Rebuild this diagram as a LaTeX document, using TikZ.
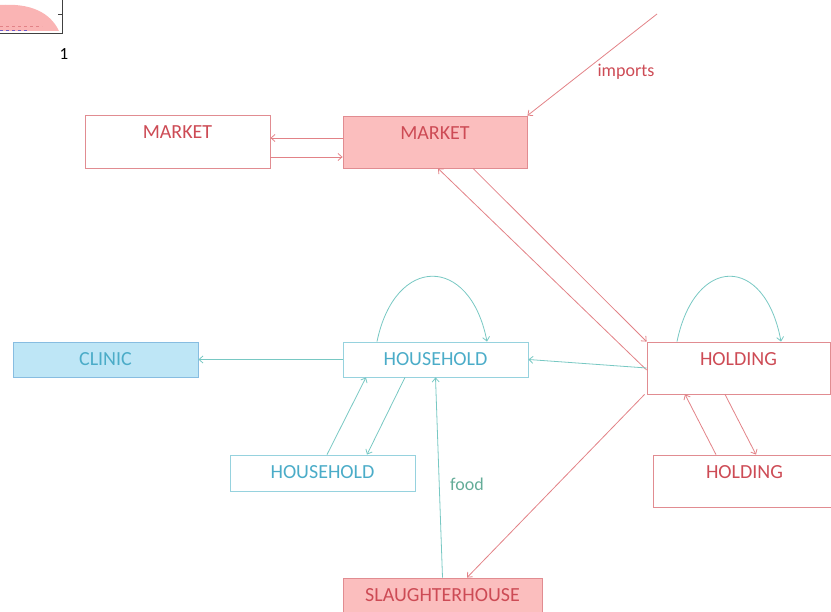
\documentclass[tikz,border=0pt]{standalone}
\usepackage{fontspec}
\setmainfont{Carlito}
\usetikzlibrary{arrows.meta,calc}
\definecolor{redtxt}{RGB}{205,75,85}
\definecolor{redline}{RGB}{226,130,135}
\definecolor{redfill}{RGB}{251,190,190}
\definecolor{redborder}{RGB}{225,140,145}
\definecolor{tealtxt}{RGB}{75,172,200}
\definecolor{tealline}{RGB}{120,200,195}
\definecolor{tealborder}{RGB}{150,210,222}
\definecolor{clinicfill}{RGB}{190,230,246}
\definecolor{foodtxt}{RGB}{100,172,152}
\definecolor{chartpink}{RGB}{250,180,180}
\definecolor{chartpurple}{RGB}{110,90,200}
\begin{document}
\begin{tikzpicture}[x=1pt,y=-1pt,
  box/.style={draw,rectangle,inner sep=0pt,line width=0.8pt},
  redbox/.style={box,draw=redborder},
  tealbox/.style={box,draw=tealborder},
  boxtext/.style={font=\fontsize{20}{24}\selectfont,anchor=north,yshift=-7.5pt,inner sep=3pt},
  redtext/.style={boxtext,text=redtxt},
  tealtext/.style={boxtext,text=tealtxt},
  redarrow/.style={draw=redline,line width=0.8pt,-{Straight Barb[length=4pt,width=7pt]}},
  tealarrow/.style={draw=tealline,line width=0.8pt,-{Straight Barb[length=4pt,width=7pt]}},
  lbl/.style={font=\fontsize{18}{22}\selectfont,inner sep=0pt}
]
\useasboundingbox (0,0) rectangle (831,612);
% chart fragment
\fill[chartpink] (0,5) .. controls (30,3) and (50,12) .. (59,31) -- (0,31) -- cycle;
\draw[redline,dashed,line width=0.6pt] (0,26) -- (42,26);
\draw[chartpurple,dashed,line width=1pt] (0,31) -- (30,31);
\draw[black!75,line width=0.8pt] (62,0) -- (62,33) -- (0,33);
\draw[black!75,line width=0.8pt] (58,14) -- (62,14);
\node[font=\fontsize{17}{20}\selectfont,inner sep=0pt] (one) at (64,54) {1};

% boxes
\node[redbox,minimum width=185pt,minimum height=53pt,fill=white,
  label={[redtext]north:MARKET}] (mktL) at (177.5,141.5) {};
\node[redbox,fill=redfill,minimum width=184pt,minimum height=52pt,
  label={[redtext]north:MARKET}] (mktC) at (435,142) {};
\node[tealbox,minimum width=185pt,minimum height=35pt,
  label={[tealtext]north:HOUSEHOLD}] (hhC) at (435.5,359.5) {};
\node[tealbox,fill=clinicfill,draw=tealborder!90!blue,minimum width=185pt,minimum height=35pt,
  label={[tealtext]north:CLINIC}] (clinic) at (105.5,359.5) {};
\node[tealbox,minimum width=185pt,minimum height=36pt,
  label={[tealtext]north:HOUSEHOLD}] (hhL) at (322.5,473) {};
\node[redbox,minimum width=183pt,minimum height=52pt,
  label={[redtext]north:HOLDING}] (holdR) at (738.5,368) {};
\node[redbox,minimum width=183pt,minimum height=52pt,
  label={[redtext]north:HOLDING}] (holdL) at (744.5,481) {};
\node[redbox,fill=redfill,minimum width=199pt,minimum height=52pt,
  label={[redtext]north:SLAUGHTERHOUSE}] (slaughter) at (442.5,604) {};

% imports
\coordinate (impSrc) at (657,14);
\draw[redarrow] (impSrc) -- (mktC.north east);
\node[lbl,text=redtxt] (imports) at (626,72) {imports};

% market <-> market
\draw[redarrow] (mktC.west |- 0,138) -- (mktL.east |- 0,138);
\draw[redarrow] (mktL.east |- 0,157) -- (mktC.west |- 0,157);

% market <-> holding
\draw[redarrow] ([yshift=-2pt]holdR.west) -- ([xshift=3pt]mktC.south);
\draw[redarrow] ([xshift=38pt]mktC.south) -- (holdR.north west);

% holding -> household, household -> clinic
\draw[tealarrow] (holdR.west) -- (hhC.east);
\draw[tealarrow] (hhC.west) -- (clinic.east);

% household <-> household
\draw[tealarrow] ([xshift=4.5pt]hhL.north) -- ([xshift=-69.5pt]hhC.south);
\draw[tealarrow] ([xshift=-30.5pt]hhC.south) -- ([xshift=44.5pt]hhL.north);

% slaughterhouse -> household (food)
\draw[tealarrow] (slaughter.north) -- (hhC.south);
\node[lbl,text=foodtxt] (food) at (467,484) {food};

% holding -> slaughterhouse
\draw[redarrow] ([xshift=-2pt]holdR.south west) -- ([xshift=24.5pt]slaughter.north);

% holding <-> holding
\draw[redarrow] ([xshift=-28.5pt]holdL.north) -- ([xshift=-53.5pt]holdR.south);
\draw[redarrow] ([xshift=-13.5pt]holdR.south) -- ([xshift=11.5pt]holdL.north);

% self loops
\draw[tealarrow] ([xshift=-58.5pt]hhC.north) .. controls +(18,-87) and +(-17,-87) .. ([xshift=51.5pt]hhC.north);
\draw[tealarrow] ([xshift=-61.5pt]holdR.north) .. controls +(18,-87) and +(-16,-87) .. ([xshift=42.5pt]holdR.north);
\end{tikzpicture}
\end{document}
